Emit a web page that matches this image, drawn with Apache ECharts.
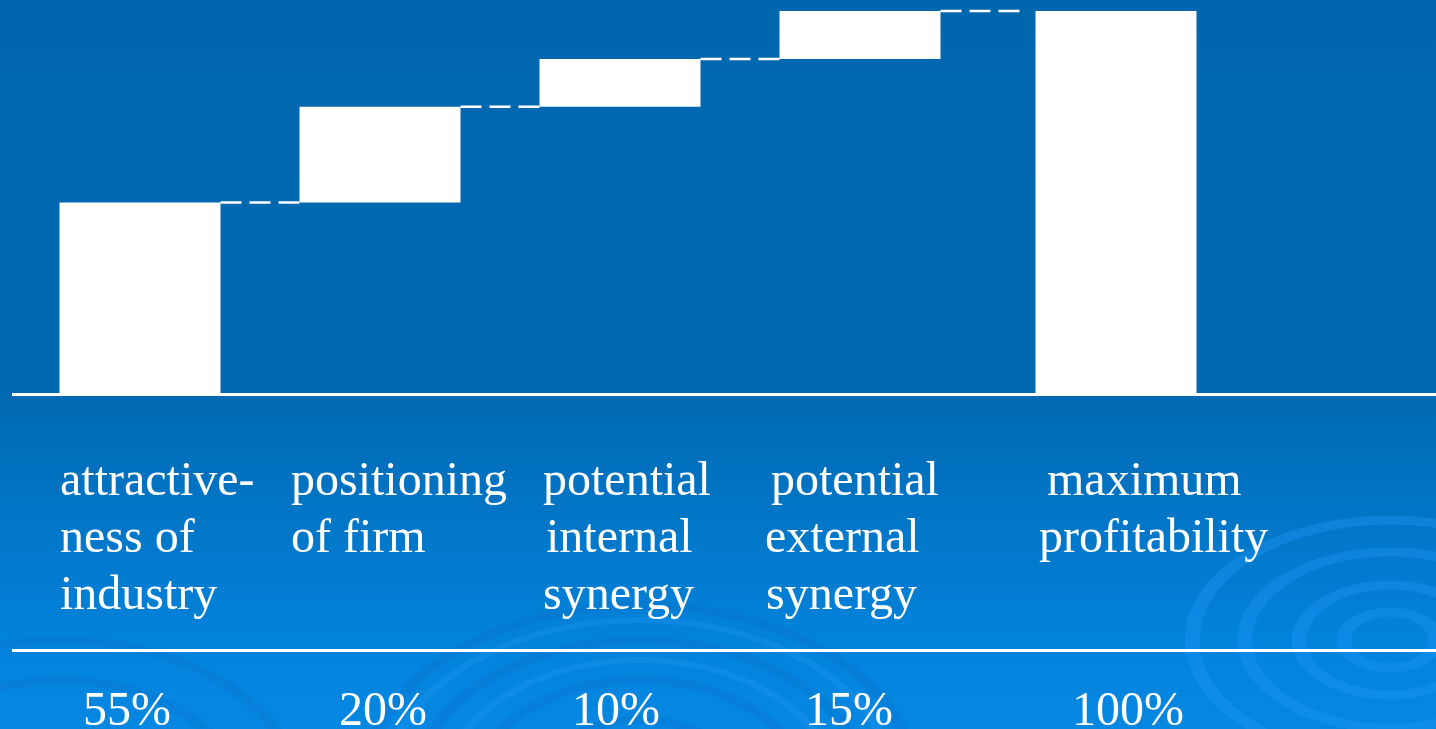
<!DOCTYPE html>
<html>
<head>
<meta charset="utf-8">
<script src="https://cdn.jsdelivr.net/npm/echarts@6/dist/echarts.min.js"></script>
<style>
html,body{margin:0;padding:0;width:1436px;height:729px;overflow:hidden;background:#0068B0;}
#chart{width:1436px;height:729px;}
</style>
</head>
<body>
<div id="chart"></div>
<script>
// ---- data ----
const categoryLines = [
  ['attractive-', 'ness of', 'industry'],
  ['positioning', 'of firm'],
  ['potential', 'internal', 'synergy'],
  ['potential', 'external', 'synergy'],
  ['maximum', 'profitability']
];
const categories = ['attractiveness of industry', 'positioning of firm', 'potential internal synergy', 'potential external synergy', 'maximum profitability'];
const stepValues = [50, 25, 12.5, 12.5];   // bar heights as drawn
const totalValue = 100;
const shareLabels = ['55%', '20%', '10%', '15%', '100%'];

// ---- derived ----
const baseValues = [];
let acc = 0;
stepValues.forEach(v => { baseValues.push(acc); acc += v; });
const levels = stepValues.map((v, i) => baseValues[i] + v);

const BAR_W = 161;
const FONT = '"Liberation Serif", "Times New Roman", serif';

const chart = echarts.init(document.getElementById('chart'), null, {renderer: 'canvas'});

// text layout (positions only; y = top of text box)
const lineLeft = [
  [60, 60, 60],
  [291, 291],
  [543, 546, 543],
  [771, 765, 766],
  [1047, 1039]
];
const lineTop = [458, 515, 572];
const shareTop = 688;
const shareCenter = [127, 383, 616, 849, 1128];

const graphics = [];
// decorative swirls
function ringSet(cx, cy, sx, radii, color, width) {
  const children = radii.map(r => ({
    type: 'circle', shape: {cx: 0, cy: 0, r: r},
    style: {fill: null, stroke: color, lineWidth: width}
  }));
  return {type: 'group', x: cx, y: cy, scaleX: sx, scaleY: 1, children: children, z: 0, silent: true};
}
graphics.push(ringSet(1390, 640, 1.65, [28, 55, 88, 120], 'rgba(30,150,245,0.4)', 9));
graphics.push(ringSet(640, 790, 1.5, [70, 110, 150, 185], 'rgba(10,110,200,0.28)', 8));
graphics.push(ringSet(640, 790, 1.5, [130, 170], 'rgba(40,155,245,0.28)', 6));
graphics.push(ringSet(60, 800, 1.5, [120, 160], 'rgba(10,110,200,0.25)', 8));

// rule lines
graphics.push({type: 'rect', shape: {x: 12, y: 393, width: 1424, height: 3}, style: {fill: '#ffffff'}, z: 5});
graphics.push({type: 'rect', shape: {x: 12, y: 649, width: 1424, height: 3}, style: {fill: '#ffffff'}, z: 5});

// category labels
categoryLines.forEach((lines, i) => {
  lines.forEach((t, j) => {
    graphics.push({
      type: 'text', x: lineLeft[i][j], y: lineTop[j], z: 10,
      style: {text: t, fill: '#ffffff', font: '48px ' + FONT, align: 'left', verticalAlign: 'top'}
    });
  });
});
// share labels
shareLabels.forEach((t, i) => {
  graphics.push({
    type: 'text', x: shareCenter[i], y: shareTop, z: 10,
    style: {text: t, fill: '#ffffff', font: '48px ' + FONT, align: 'center', verticalAlign: 'top'}
  });
});

const option = {
  animation: false,
  backgroundColor: {
    type: 'linear', x: 0, y: 0, x2: 0, y2: 1,
    colorStops: [
      {offset: 0, color: '#0067AF'},
      {offset: 0.54, color: '#0069B2'},
      {offset: 0.89, color: '#0383DC'},
      {offset: 1, color: '#0587E2'}
    ]
  },
  grid: [
    {left: 20, width: 1200, top: 11, bottom: 335},
    {left: 36, width: 1200, top: 11, bottom: 335}
  ],
  xAxis: [
    {type: 'category', gridIndex: 0, data: categories, show: false},
    {type: 'category', gridIndex: 1, data: categories, show: false}
  ],
  yAxis: [
    {type: 'value', gridIndex: 0, min: 0, max: totalValue, show: false},
    {type: 'value', gridIndex: 1, min: 0, max: totalValue, show: false}
  ],
  graphic: {elements: graphics},
  series: [
    {
      type: 'bar', xAxisIndex: 0, yAxisIndex: 0, stack: 'wf', barWidth: BAR_W,
      data: baseValues.concat(['-']),
      itemStyle: {color: 'rgba(0,0,0,0)'}, silent: true
    },
    {
      type: 'bar', xAxisIndex: 0, yAxisIndex: 0, stack: 'wf', barWidth: BAR_W,
      data: stepValues.concat(['-']),
      itemStyle: {color: '#ffffff'}, z: 3
    },
    {
      type: 'bar', xAxisIndex: 1, yAxisIndex: 1, barWidth: BAR_W,
      data: ['-', '-', '-', '-', totalValue],
      itemStyle: {color: '#ffffff'}, z: 3
    },
    {
      type: 'custom', xAxisIndex: 0, yAxisIndex: 0, z: 4,
      data: levels.map((v, i) => [i, v]),
      renderItem: function (params, api) {
        const i = api.value(0), v = api.value(1);
        const p0 = api.coord([i, v]);
        const p1 = api.coord([i + 1, v]);
        return {
          type: 'line',
          shape: {x1: p0[0] + BAR_W / 2, y1: p0[1], x2: p1[0] - BAR_W / 2, y2: p1[1]},
          style: {stroke: '#ffffff', lineWidth: 2.5, lineDash: [21, 8]}
        };
      }
    }
  ]
};
chart.setOption(option);
</script>
</body>
</html>
